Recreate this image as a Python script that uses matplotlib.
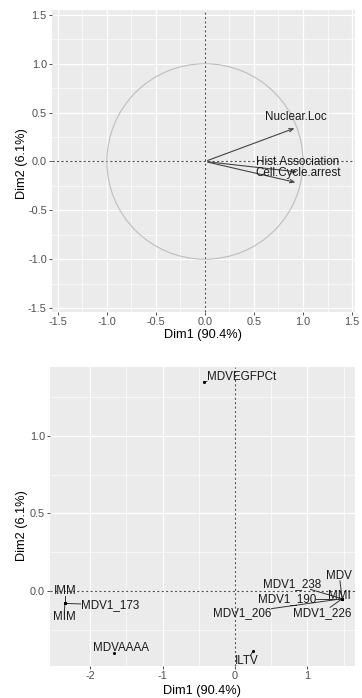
import numpy as np
import matplotlib
matplotlib.use('Agg')
import matplotlib.pyplot as plt
from matplotlib.patches import Circle

plt.rcParams['font.family'] = ['Liberation Sans', 'DejaVu Sans']

# variables (correlation circle)
var_names = ['Nuclear.Loc', 'Hist.Association', 'Cell.Cycle.arrest']
var_x = [0.94, 0.97, 0.95]
var_y = [0.35, -0.11, -0.22]
var_lab_x = [0.93, 0.95, 0.95]
var_lab_y = [0.45, -0.01, -0.12]

# individuals
ind_names = ['MDVEGFPCt', 'IMM', 'MIM', 'MDV1_173', 'MDVAAAA', 'ILTV',
             'MDV', 'MDV1_238', 'MMI', 'MDV1_190', 'MDV1_206', 'MDV1_226']
ind_x = [-0.43, -2.35, -2.35, -2.35, -1.67, 0.25,
         1.48, 1.48, 1.48, 1.48, 1.48, 1.48]
ind_y = [1.35, -0.08, -0.08, -0.08, -0.40, -0.39,
         -0.05, -0.05, -0.05, -0.05, -0.05, -0.05]
ind_lab_x = [0.09, -2.35, -2.36, -1.73, -1.57, 0.16,
             1.44, 0.79, 1.44, 0.72, 0.10, 1.21]
ind_lab_y = [1.38, 0.0, -0.17, -0.09, -0.37, -0.45,
             0.10, 0.045, -0.03, -0.05, -0.14, -0.14]

dim1_lab = 'Dim1 (90.4%)'
dim2_lab = 'Dim2 (6.1%)'

BG = '#EBEBEB'
TICKC = '#4D4D4D'


def style_axes(ax, xmaj, xmin, ymaj, ymin, xfmt, yfmt):
    ax.set_facecolor(BG)
    for s in ax.spines.values():
        s.set_visible(False)
    ax.set_xticks(xmaj)
    ax.set_xticks(xmin, minor=True)
    ax.set_yticks(ymaj)
    ax.set_yticks(ymin, minor=True)
    ax.set_xticklabels([xfmt(v) for v in xmaj])
    ax.set_yticklabels([yfmt(v) for v in ymaj])
    ax.grid(which='major', color='white', linewidth=0.9)
    ax.grid(which='minor', color='white', linewidth=0.45)
    ax.set_axisbelow(True)
    ax.tick_params(which='major', length=2.5, width=0.6, color='#333333',
                   labelsize=7.8, labelcolor=TICKC, pad=1.2)
    ax.tick_params(which='minor', length=0)
    ax.axhline(0, color='#555555', linewidth=0.8, linestyle=(0, (2, 2)), zorder=1.5)
    ax.axvline(0, color='#555555', linewidth=0.8, linestyle=(0, (2, 2)), zorder=1.5)


def repel_segments(fig, ax, texts, px, py):
    # ggrepel-like segments: from point to the edge of its label box
    fig.canvas.draw()
    r = fig.canvas.get_renderer()
    inv = ax.transData.inverted()
    for t, x, y in zip(texts, px, py):
        bb = t.get_window_extent(r).expanded(1.0, 0.9)
        p = ax.transData.transform((x, y))
        c = np.array([(bb.x0 + bb.x1) / 2, (bb.y0 + bb.y1) / 2])
        if bb.x0 - 2 <= p[0] <= bb.x1 + 2 and bb.y0 - 2 <= p[1] <= bb.y1 + 2:
            continue
        d = c - p
        ts = []
        for lo, hi, k in [(bb.x0, bb.x1, 0), (bb.y0, bb.y1, 1)]:
            if d[k] != 0:
                for edge in (lo, hi):
                    tt = (edge - p[k]) / d[k]
                    q = p + tt * d
                    o = 1 - k
                    lo2, hi2 = (bb.y0, bb.y1) if k == 0 else (bb.x0, bb.x1)
                    if 0 <= tt <= 1 and lo2 - 0.01 <= q[o] <= hi2 + 0.01:
                        ts.append(tt)
        if not ts:
            continue
        e = p + min(ts) * d
        a = inv.transform(p)
        b = inv.transform(e)
        ax.plot([a[0], b[0]], [a[1], b[1]], color='#333333', linewidth=0.7, zorder=3)


fig = plt.figure(figsize=(3.62, 6.98), dpi=100)

# top: variables
ax1 = fig.add_axes([0.1436, 0.553, 0.837, 0.4327])
style_axes(ax1, [-1.5, -1.0, -0.5, 0.0, 0.5, 1.0, 1.5],
           [-1.25, -0.75, -0.25, 0.25, 0.75, 1.25],
           [-1.5, -1.0, -0.5, 0.0, 0.5, 1.0, 1.5],
           [-1.25, -0.75, -0.25, 0.25, 0.75, 1.25],
           lambda v: '%.1f' % v, lambda v: '%.1f' % v)
ax1.add_patch(Circle((0, 0), 1, fill=False, edgecolor='#BDBDBD', linewidth=0.8, zorder=2))
for x, y in zip(var_x, var_y):
    ax1.annotate('', xy=(x, y), xytext=(0, 0),
                 arrowprops=dict(arrowstyle='->,head_length=0.3,head_width=0.12',
                                 color='#444444', linewidth=0.8), zorder=3)
for n, x, y in zip(var_names, var_lab_x, var_lab_y):
    ax1.text(x, y, n, ha='center', va='center', fontsize=8.4, color='#1a1a1a', zorder=4)
ax1.set_xlim(-1.56, 1.53)
ax1.set_ylim(-1.54, 1.55)
ax1.set_xlabel(dim1_lab, fontsize=9.2)
ax1.set_ylabel(dim2_lab, fontsize=9.2)
ax1.xaxis.set_label_coords(0.5, -0.056)
ax1.yaxis.set_label_coords(-0.078, 0.49)

# bottom: individuals
ax2 = fig.add_axes([0.1381, 0.0458, 0.8425, 0.4284])
style_axes(ax2, [-2, -1, 0, 1], [-1.5, -0.5, 0.5, 1.5],
           [0.0, 0.5, 1.0], [-0.25, 0.25, 0.75, 1.25],
           lambda v: '%d' % v, lambda v: '%.1f' % v)
ax2.scatter(ind_x, ind_y, s=5, color='black', zorder=4, linewidths=0)
texts = []
for n, x, y in zip(ind_names, ind_lab_x, ind_lab_y):
    texts.append(ax2.text(x, y, n, ha='center', va='center', fontsize=8.4,
                          color='#1a1a1a', zorder=5))
ax2.set_xlim(-2.555, 1.657)
ax2.set_ylim(-0.484, 1.445)
ax2.set_xlabel(dim1_lab, fontsize=9.2)
ax2.set_ylabel(dim2_lab, fontsize=9.2)
ax2.xaxis.set_label_coords(0.5, -0.062)
ax2.yaxis.set_label_coords(-0.073, 0.47)

repel_segments(fig, ax2, texts, ind_x, ind_y)

fig.savefig('out.png', dpi=100)
